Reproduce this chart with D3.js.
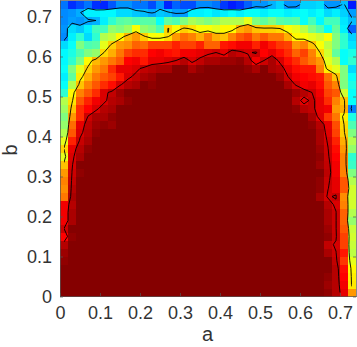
<!DOCTYPE html>
<html lang="en">
<head>
<meta charset="UTF-8">
<title>a b map</title>
<script src="https://cdnjs.cloudflare.com/ajax/libs/d3/7.8.5/d3.min.js"></script>
<style>
    html, body { margin: 0; padding: 0; background: #fff; }
    svg { display: block; }
    text { font-family: "Liberation Sans", sans-serif; fill: #333; }
</style>
</head>
<body>
<svg id="chart" width="357" height="347"></svg>
<script>
    const cellSize = 0.02;
    const aMax = 0.74, bMax = 0.74;
    const aTicks = [0, 0.1, 0.2, 0.3, 0.4, 0.5, 0.6, 0.7];
    const bTicks = [0, 0.1, 0.2, 0.3, 0.4, 0.5, 0.6, 0.7];
    const contourLevels = [30, 66, 90];

    // top row first, 37 rows x 37 columns
    const grid = [
        [24,17,20,24,17,16,21,27,27,24,24,20,27, 16,22,20,20,26,26,24,18,15,17,22,27, 27,30,33,27,27,33,33,34,27,27,31,15],
        [26,27,29.5,36,36,37,37,34,34,32,31,29,32, 31,28,28,36,36,37,35,36,38,36,38,38, 36,38,38,36,37,38,36,38,34,36,33,28],
        [26,28,27,29,30,36,42,46,47,45,46,46,38, 47,45,50,54,52,50,52,55,55,55,60,50, 47,50,46,45,46,38,44,37,44,44,35,31],
        [27,34,32,36,44,44,52,50,53,62,52,50,45, 66.5,62,67,65,62,62,60,63,63,70,72,68, 67,67,66,62,60,56,50,46,38,47,36,22],
        [26,36,42,34,42,55,57,63,69,72,67,62,62, 65.5,72,76,74,70,75,70,68,74,78,80,75, 78,75,75,70,63,62,60,58,62,50,42,33],
        [34,38,50,45,46,60,67,72,73,77,76,80,80, 80,83,80,80,83,77,77,84,85,87,87,83, 87,84,81,80,72,74,68,62,56,50,42,35],
        [37,40,45,50,52,66,70,75,80,82,82,86,87, 85,84,87,87,88,89,90,88,92,90.5,89.5,90.5, 86,88,85,82,77,80,74,66,58,47,38,40],
        [37,42,50,63,69,72,75,78,86,87,84,88,88, 89,90,92,89,91,93,93,94,94,95,92,87, 90,93,89,85,82,78,75,72,60,55,38,42],
        [38,50,60,67,72,75,82,88,88,89,91,92,93, 93,97,96,93,95,96,96,96,96,96,95,93, 96,93,92,88,85,84,84,74,64,60,50,34],
        [36,47,64,70,75,78,80,84,89,91,93,94,96, 96,97,97,97,97,97,98,98,98,97,97,96, 97,96,94,90,87,86,85,84,76,68,50,38],
        [38,55,68,74,78,82,85,89.5,92,93,96,95,97, 97,98,98,98,98,99,98,99,98,98,98,98, 98,97,96,93,89.5,87,88,85,78,74,50,40],
        [42,63,74,78,82,89,91,94,97,97,98,98,98, 99,99,99,99,99,99,99,99,99,99,99,99, 100,98,97,97,94,92,90,87,80,78,58,38],
        [55,65,78,83,87,89,92,93,95,97,97,98,98, 99,100,100,100,100,100,100,100,100,100,100,100, 100,99,98,97,92,88.5,91,88,82,74,68,38],
        [53,68,82,86,89,92,93,96,98,99,100,100,100, 100,100,100,100,100,100,100,100,100,100,100,100, 100,100,99,97,95,92,91,88,87,72,70,25],
        [50,72,82,90.2,93,93,95,97,99,100,100,100,100, 100,100,100,100,100,100,100,100,100,100,100,100, 100,100,100,98,96,96,93,88.5,81,75,64,40],
        [52,76,88,91.5,94,95,94,97,99,100,100,100,100, 100,100,100,100,100,100,100,100,100,100,100,100, 100,100,100,99,97,97,95,92,88,79,66,45],
        [55,78,89,92,95,96,97,98,99,100,100,100,100, 100,100,100,100,100,100,100,100,100,100,100,100, 100,100,100,99,98,97,96,93,88.5,80,67,50],
        [60,83,90.5,93,96,97,98,99,100,100,100,100,100, 100,100,100,100,100,100,100,100,100,100,100,100, 100,100,100,99,98,97,96,93,89.5,83,70,55],
        [66.5,88,92,95,97,98,99,100,100,100,100,100,100, 100,100,100,100,100,100,100,100,100,100,100,100, 100,100,100,100,99,97,96,94,90.1,85,72,52],
        [60,89,93,96,97,98,99,100,100,100,100,100,100, 100,100,100,100,100,100,100,100,100,100,100,100, 100,100,100,100,99,98,97,95,90.5,86,74,42],
        [68,89.5,96,96,98,99,100,100,100,100,100,100,100, 100,100,100,100,100,100,100,100,100,100,100,100, 100,100,100,100,100,98,97,94,91,87,74,43],
        [72,90.1,95,96,98,99,100,100,100,100,100,100,100, 100,100,100,100,100,100,100,100,100,100,100,100, 100,100,100,100,100,98,96,96,91.5,87,74,50],
        [74,91,96,97,98,99,100,100,100,100,100,100,100, 100,100,100,100,100,100,100,100,100,100,100,100, 100,100,100,100,100,99,98,95,90.5,88,78,55],
        [73,92,97,98,99,100,100,100,100,100,100,100,100, 100,100,100,100,100,100,100,100,100,100,100,100, 100,100,100,100,100,99,98,95,90.1,88,78,58],
        [75,93,97,98,99,100,100,100,100,100,100,100,100, 100,100,100,100,100,100,100,100,100,100,100,100, 100,100,100,100,100,99,97,93,89.5,90.5,73,58],
        [87,92,97,98,99,100,100,100,100,100,100,100,100, 100,100,100,100,100,100,100,100,100,100,100,100, 100,100,100,100,100,100,98,96,92,89,74,58],
        [87,93,97,98,99,100,100,100,100,100,100,100,100, 100,100,100,100,100,100,100,100,100,100,100,100, 100,100,100,100,100,100,99,97,93,90.2,77,55],
        [87,93,98,99,100,100,100,100,100,100,100,100,100, 100,100,100,100,100,100,100,100,100,100,100,100, 100,100,100,100,100,100,98,97,93,90.2,77,52],
        [90,97,98,99,100,100,100,100,100,100,100,100,100, 100,100,100,100,100,100,100,100,100,100,100,100, 100,100,100,100,100,100,99,97,94,90.2,78,57],
        [86,95,98,99,100,100,100,100,100,100,100,100,100, 100,100,100,100,100,100,100,100,100,100,100,100, 100,100,100,100,100,100,99,98,95,90.5,80,58],
        [92,97,99,100,100,100,100,100,100,100,100,100,100, 100,100,100,100,100,100,100,100,100,100,100,100, 100,100,100,100,100,100,98,96,91,89.5,80,57],
        [94,97,99,100,100,100,100,100,100,100,100,100,100, 100,100,100,100,100,100,100,100,100,100,100,100, 100,100,100,100,100,100,99,97,93,90.1,84,56],
        [95,98,99,100,100,100,100,100,100,100,100,100,100, 100,100,100,100,100,100,100,100,100,100,100,100, 100,100,100,100,100,100,98,96,96,91,81,60],
        [96,99,100,100,100,100,100,100,100,100,100,100,100, 100,100,100,100,100,100,100,100,100,100,100,100, 100,100,100,100,100,100,99,98,96,92,85,63],
        [97,99,100,100,100,100,100,100,100,100,100,100,100, 100,100,100,100,100,100,100,100,100,100,100,100, 100,100,100,100,100,100,100,98,95,92,86,64],
        [98,99,100,100,100,100,100,100,100,100,100,100,100, 100,100,100,100,100,100,100,100,100,100,100,100, 100,100,100,100,100,100,100,97,94,92,87,64.5],
        [100,100,100,100,100,100,100,100,100,100,100,100,100, 100,100,100,100,100,100,100,100,100,100,100,100, 100,100,100,100,100,100,100,98,95,92,88,72]
    ];

    const svg = d3.select("#chart");
    const x = d3.scaleLinear().domain([0, aMax]).range([60, 356]);
    const y = d3.scaleLinear().domain([0, bMax]).range([296.5, 0.5]);

    // jet, saturated to the dark end a little before the top of the data
    const jet = d3.scaleLinear()
        .domain([0, 12.5, 37.5, 62.5, 86, 96])
        .range(["#000080", "#0000ff", "#00ffff", "#ffff00", "#ff0000", "#850000"])
        .clamp(true);

    // cells
    svg.append("g")
        .attr("class", "cells")
        .attr("shape-rendering", "crispEdges")
        .selectAll("g")
        .data(grid)
        .join("g")
        .each(function(row, r) {
            d3.select(this).selectAll("rect")
                .data(row)
                .join("rect")
                .attr("x", (d, c) => x(c * cellSize))
                .attr("y", y(bMax - r * cellSize))
                .attr("width", x(cellSize) - x(0))
                .attr("height", y(0) - y(cellSize))
                .attr("fill", d => jet(d));
        });

    // contours stop at the centres of the outer cells, like the reference
    svg.append("clipPath")
        .attr("id", "centres")
        .append("rect")
        .attr("x", x(cellSize / 2))
        .attr("y", y(bMax - cellSize / 2))
        .attr("width", x(aMax - cellSize / 2) - x(cellSize / 2))
        .attr("height", y(cellSize / 2) - y(bMax - cellSize / 2));

    const toPage = d3.geoTransform({
        point: function(gx, gy) {
            this.stream.point(x(gx * cellSize), y(bMax - gy * cellSize));
        }
    });
    const path = d3.geoPath(toPage);
    const contours = d3.contours()
        .size([grid[0].length, grid.length])
        .thresholds(contourLevels)(grid.flat());

    svg.append("g")
        .attr("clip-path", "url(#centres)")
        .selectAll("path")
        .data(contours)
        .join("path")
        .attr("d", path)
        .attr("fill", "none")
        .attr("stroke", "#000")
        .attr("stroke-width", 0.9)
        .attr("stroke-linejoin", "round");

    // axes
    const fmt = d => d === 0 ? "0" : d.toFixed(1);
    const axisStyle = g => {
        g.selectAll("path,line").attr("stroke", "#555").attr("stroke-width", 0.7);
        g.selectAll("text").attr("font-size", 18).attr("fill", "#333");
    };
    svg.append("g").attr("transform", "translate(0,296)")
        .call(d3.axisBottom(x).tickValues(aTicks).tickSizeInner(-3).tickSizeOuter(0).tickPadding(10).tickFormat(fmt))
        .call(axisStyle);
    svg.append("g").attr("transform", "translate(60,0)")
        .call(d3.axisLeft(y).tickValues(bTicks).tickSizeInner(-3).tickSizeOuter(0).tickPadding(8).tickFormat(fmt))
        .call(axisStyle);
    svg.append("g").attr("transform", "translate(0,0)")
        .call(d3.axisTop(x).tickValues(aTicks).tickSizeInner(-3).tickSizeOuter(0).tickFormat(""))
        .call(axisStyle);
    svg.append("g").attr("transform", "translate(356,0)")
        .call(d3.axisRight(y).tickValues(bTicks).tickSizeInner(-3).tickSizeOuter(0).tickFormat(""))
        .call(axisStyle);

    svg.append("text")
        .attr("x", 207.5)
        .attr("y", 341)
        .attr("text-anchor", "middle")
        .attr("font-size", 20)
        .text("a");
    svg.append("text")
        .attr("transform", "translate(17,150) rotate(-90)")
        .attr("text-anchor", "middle")
        .attr("font-size", 20)
        .text("b");
</script>
</body>
</html>
